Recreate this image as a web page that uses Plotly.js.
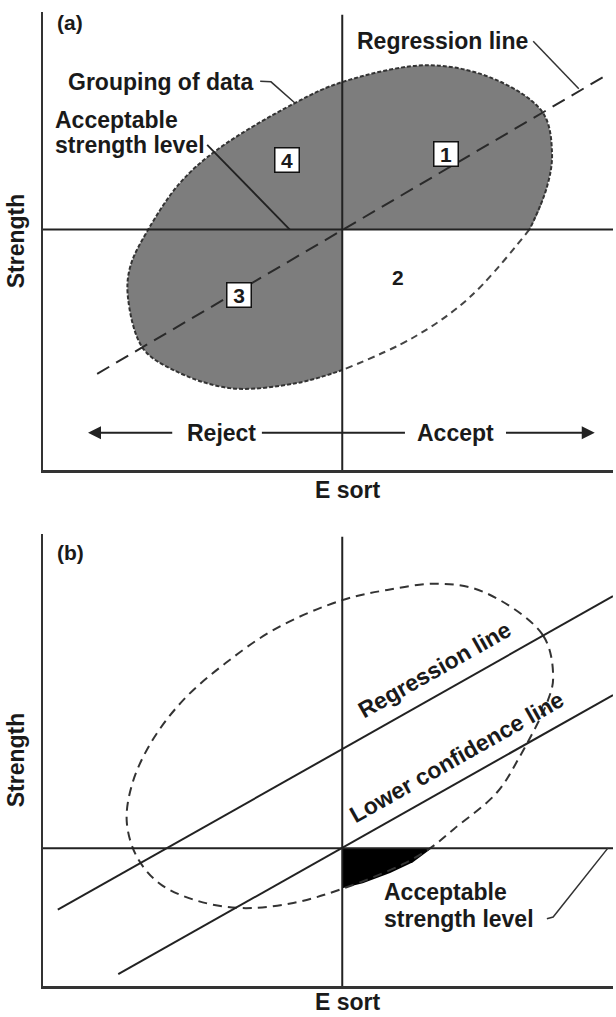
<!DOCTYPE html>
<html><head><meta charset="utf-8">
<script src="https://cdn.plot.ly/plotly-3.0.1.min.js"></script>
<style>html,body{margin:0;padding:0;background:#fff;}#chart{width:616px;height:1017px;}</style>
</head><body><div id="chart"></div>
<script>
// ---------- Panel (a) ----------
const aCutoffE = 5.25;          // E sort acceptance cutoff
const aLevel = 4.2;             // acceptable strength level
const aRegX = [0.95, 9.89];     // regression line
const aRegY = [1.68, 6.90];
// outline of the data grouping that is shaded (regions 1, 3, 4)
const aShadedArcX = [5.26, 4.46, 3.28, 2.28, 1.75, 1.49, 1.53, 1.84, 2.40, 3.05, 4.42, 5.26, 6.79, 7.96, 8.77, 8.93, 8.84, 8.54];
const aShadedArcY = [1.75, 1.52, 1.43, 1.75, 2.13, 3.02, 3.55, 4.19, 5.01, 5.59, 6.41, 6.78, 7.07, 6.81, 6.24, 5.54, 4.94, 4.21];
// outline of region 2 (not shaded)
const aOpenArcX = [8.54, 7.49, 6.49, 5.26];
const aOpenArcY = [4.21, 3.02, 2.31, 1.75];
const aRegLeaderX = [8.60, 9.40];
const aRegLeaderY = [7.49, 6.66];
const aGroupLeaderX = [3.81, 4.00, 4.42];
const aGroupLeaderY = [6.79, 6.78, 6.41];
const aLevelLeaderX = [2.88, 4.33];
const aLevelLeaderY = [5.68, aLevel];
const aRegionLabels = ['1', '4', '3'];
const aRegionX = [7.07, 4.28, 3.44];
const aRegionY = [5.52, 5.41, 3.06];
const aRegion2 = {label: '2', x: 6.23, y: 3.37};
const aDecisionY = 0.65;
const aRejectX = 3.14, aAcceptX = 7.23;
const aRejectArrowX = [2.32, 0.79];   // tail, tip
const aMidLineX = [3.84, 6.35];
const aAcceptArrowX = [8.07, 9.68];   // tail, tip

// ---------- Panel (b) ----------
const bCutoffE = 5.25;
const bLevel = 2.44;
const bRegX = [0.26, 10];
const bRegY = [1.35, 6.90];
const bLowX = [1.32, 10];
const bLowY = [0.21, 5.15];
const bEllX = [8.95, 8.77, 7.74, 6.96, 6.04, 5.25, 4.11, 3.21, 2.46, 1.89, 1.56, 1.47, 1.65, 2.05, 2.67, 3.46, 4.39, 5.25, 6.32, 6.82, 7.21, 7.96, 8.33, 8.86, 8.95];
const bEllY = [5.47, 6.21, 6.97, 7.12, 7.01, 6.83, 6.34, 5.72, 5.06, 4.30, 3.56, 2.90, 2.28, 1.81, 1.52, 1.38, 1.47, 1.72, 2.16, 2.46, 2.78, 3.42, 4.00, 5.06, 5.47];
const bBlackArcX = [5.25, 5.61, 6.09, 6.49, 6.82];
const bBlackArcY = [1.73, 1.82, 2.00, 2.19, 2.44];
const bLevelLeaderX = [8.84, 8.95, 9.91];
const bLevelLeaderY = [1.19, 1.22, bLevel];

const X_MAX = 10, Y_MAX = 8, LINE_TOP = 7.95;

const INK = '#222';
const FONT = {family: 'Liberation Sans, Arial, Helvetica, sans-serif', size: 23, color: '#1a1a1a', weight: 'bold'};
function f(extra) { return Object.assign({}, FONT, extra || {}); }

function ln(xs, ys, xa, ya, opts) {
  return {type: 'scatter', mode: 'lines', x: xs, y: ys, xaxis: xa, yaxis: ya,
    line: Object.assign({color: INK, width: 2}, opts || {}), hoverinfo: 'skip', showlegend: false};
}

const aEllX = aShadedArcX.concat(aOpenArcX.slice(1));
const aEllY = aShadedArcY.concat(aOpenArcY.slice(1));

const traces = [
  // (a) shaded grouping
  Object.assign(ln(aEllX, aEllY, 'x', 'y', {width: 0, shape: 'spline', color: 'rgba(0,0,0,0)'}),
    {fill: 'toself', fillcolor: '#7d7d7d'}),
  // (a) region 2 left unshaded
  Object.assign(ln([aCutoffE, X_MAX, X_MAX, aCutoffE, aCutoffE], [0, 0, aLevel, aLevel, 0], 'x', 'y', {width: 0, color: 'rgba(0,0,0,0)'}),
    {fill: 'toself', fillcolor: '#ffffff'}),
  ln(aShadedArcX, aShadedArcY, 'x', 'y', {shape: 'spline', dash: '4px,2px', color: '#333'}),
  ln(aOpenArcX, aOpenArcY, 'x', 'y', {shape: 'spline', dash: '7px,5px', color: '#444'}),
  ln(aRegX, aRegY, 'x', 'y', {dash: '14px,8px', color: '#2a2a2a'}),
  ln([0, X_MAX], [aLevel, aLevel], 'x', 'y'),
  ln([aCutoffE, aCutoffE], [0, LINE_TOP], 'x', 'y'),
  ln(aRegLeaderX, aRegLeaderY, 'x', 'y', {width: 1.5, color: '#333'}),
  ln(aGroupLeaderX, aGroupLeaderY, 'x', 'y', {width: 1.5, color: '#333'}),
  ln(aLevelLeaderX, aLevelLeaderY, 'x', 'y', {width: 1.8}),
  ln(aMidLineX, [aDecisionY, aDecisionY], 'x', 'y', {width: 2}),
  // (b)
  Object.assign(ln([bCutoffE].concat(bBlackArcX).concat([bCutoffE]), [bLevel].concat(bBlackArcY).concat([bLevel]), 'x2', 'y2', {width: 0, color: 'rgba(0,0,0,0)'}),
    {fill: 'toself', fillcolor: '#000000'}),
  ln(bEllX, bEllY, 'x2', 'y2', {shape: 'spline', dash: '9px,6px', color: '#333'}),
  ln(bRegX, bRegY, 'x2', 'y2'),
  ln(bLowX, bLowY, 'x2', 'y2'),
  ln([0, X_MAX], [bLevel, bLevel], 'x2', 'y2'),
  ln([bCutoffE, bCutoffE], [0, LINE_TOP], 'x2', 'y2'),
  ln(bLevelLeaderX, bLevelLeaderY, 'x2', 'y2', {width: 1.5, color: '#333'})
];

const ann = [];
function txt(x, y, text, xr, yr, extra) {
  ann.push(Object.assign({x: x, y: y, xref: xr, yref: yr, text: text, showarrow: false, font: f()}, extra || {}));
}
// (a)
txt(0.47, 7.82, '(a)', 'x', 'y', {font: f({size: 21})});
txt(5.47, 7.50, 'Regression line', 'x', 'y', {xanchor: 'left'});
txt(0.40, 6.78, 'Grouping of data', 'x', 'y', {xanchor: 'left'});
txt(0.175, 6.12, 'Acceptable', 'x', 'y', {xanchor: 'left'});
txt(0.175, 5.67, 'strength level', 'x', 'y', {xanchor: 'left'});
aRegionLabels.forEach(function (lab, i) {
  txt(aRegionX[i], aRegionY[i], lab, 'x', 'y', {font: f({size: 21}), bgcolor: '#ffffff', bordercolor: '#111',
    borderwidth: 1.5, borderpad: 0, width: 23, height: 23});
});
txt(aRegion2.x, aRegion2.y, aRegion2.label, 'x', 'y', {font: f({size: 21})});
txt(aRejectX, aDecisionY, 'Reject', 'x', 'y');
txt(aAcceptX, aDecisionY, 'Accept', 'x', 'y');
[aRejectArrowX, aAcceptArrowX].forEach(function (a) {
  ann.push({x: a[1], y: aDecisionY, ax: a[0], ay: aDecisionY, xref: 'x', yref: 'y', axref: 'x', ayref: 'y',
    text: ' ', showarrow: true, arrowhead: 2, arrowsize: 1.3, arrowwidth: 2, arrowcolor: INK});
});
txt(5.35, 0, 'E sort', 'x', 'y domain', {yanchor: 'middle', yshift: -20});
// (b)
txt(0.49, 7.68, '(b)', 'x2', 'y2', {font: f({size: 21})});
txt(6.86, 5.59, 'Regression line', 'x2', 'y2', {textangle: -29.5});
txt(7.26, 4.05, 'Lower confidence line', 'x2', 'y2', {textangle: -29.5});
txt(5.95, 1.66, 'Acceptable', 'x2', 'y2', {xanchor: 'left'});
txt(5.95, 1.18, 'strength level', 'x2', 'y2', {xanchor: 'left'});
txt(5.35, 0, 'E sort', 'x2', 'y2 domain', {yanchor: 'middle', yshift: -16});

const axX = {range: [0, X_MAX], domain: [43 / 616, 613 / 616], showline: true, linewidth: 2.5, linecolor: '#333',
  showgrid: false, zeroline: false, showticklabels: false, ticks: '', fixedrange: true};
const yTitle = {text: 'Strength', font: f(), standoff: 10};
const layout = {
  width: 616, height: 1017, margin: {l: 0, r: 0, t: 0, b: 0},
  paper_bgcolor: '#ffffff', plot_bgcolor: '#ffffff', showlegend: false, hovermode: false,
  xaxis: Object.assign({}, axX, {anchor: 'y'}),
  yaxis: Object.assign({}, axX, {anchor: 'x', domain: [1 - 470 / 1017, 1 - 12 / 1017], range: [0, Y_MAX], title: yTitle}),
  xaxis2: Object.assign({}, axX, {anchor: 'y2'}),
  yaxis2: Object.assign({}, axX, {anchor: 'x2', domain: [1 - 986 / 1017, 1 - 534 / 1017], range: [0, Y_MAX], title: yTitle}),
  annotations: ann
};
Plotly.newPlot('chart', traces, layout, {staticPlot: true, displayModeBar: false});
</script></body></html>
